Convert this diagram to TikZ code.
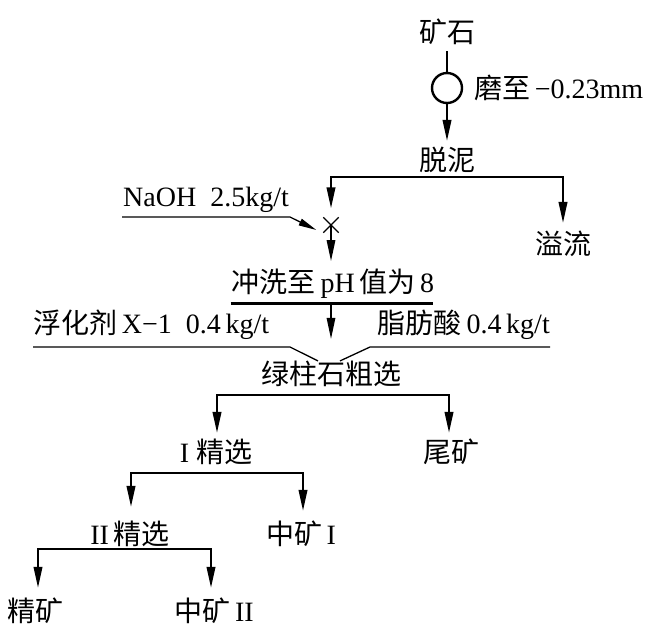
\documentclass[tikz,border=0pt]{standalone}
\usepackage{fontspec}
\setmainfont{Liberation Serif}
\newfontfamily\cjk{Noto Sans CJK SC}
\usetikzlibrary{arrows.meta,shapes.misc,calc}
\begin{document}
\begin{tikzpicture}[x=1pt,y=-1pt,
  txt/.style={inner sep=0pt, font=\fontsize{28}{30}\selectfont},
  flow/.style={line width=2.2pt},
  tip/.tip={Triangle[length=21pt,width=8.5pt]},
  arr/.style={flow,-tip},
  thinarr/.style={line width=1.4pt,-tip},
  feed/.style={line width=1.3pt},
]
\useasboundingbox (0,0) rectangle (663,633);
% nodes
\node[txt] (ore) at (447,32) {\cjk 矿石};
\node[circle,draw,line width=2.4pt,minimum size=30pt,inner sep=0pt] (mill) at (447,88) {};
\node[txt,anchor=west] (grind) at (474,88) {{\cjk 磨至}\,−0.23mm};
\node[txt] (desl) at (447,160) {\cjk 脱泥};
\node[cross out,draw,line width=1.3pt,minimum size=14pt,inner sep=0pt] (xmark) at (331,225) {};
\node[txt] (over) at (563,244) {\cjk 溢流};
\node[txt,anchor=west] (naoh) at (123,200) {NaOH\ \ 2.5kg/t};
\node[txt] (wash) at (333,284) {{\cjk 冲洗至}\,pH\,{\cjk 值为}\,8};
\node[txt,anchor=west] (reagL) at (33,325) {{\cjk 浮化剂}\,X−1\ \ 0.4\,kg/t};
\node[txt,anchor=east] (reagR) at (550,325) {{\cjk 脂肪酸}\,0.4\,kg/t};
\node[txt] (rough) at (331,374) {\cjk 绿柱石粗选};
\node[txt] (c1) at (216,452) {I\ {\cjk 精选}};
\node[txt] (tail) at (451,452) {\cjk 尾矿};
\node[txt] (c2) at (130,534) {II\,{\cjk 精选}};
\node[txt] (mid1) at (301,534) {{\cjk 中矿}\,I};
\node[txt] (conc) at (35,611) {\cjk 精矿};
\node[txt] (mid2) at (214,611) {{\cjk 中矿}\,II};
% split points
\coordinate (s0) at (447,177);
\coordinate (s1) at (331,395);
\coordinate (s2) at (217,473);
\coordinate (s3) at (130,549);
% top
\draw[flow] (ore.south) ++(0,6) -- (mill.north);
\draw[arr] (mill.south) -- ($(desl.north)+(0,-6)$);
% deslime branch
\draw[flow,tip-tip] ($(xmark.north)+(0,-9)$) |- (s0) -| ($(over.north)+(0,-8)$);
% NaOH
\draw[feed,-{Triangle[length=18pt,width=7pt]}] ($(naoh.west)+(-1,17)$) -- ($(naoh.west)+(167,17)$) -- ($(xmark.west)+(-7,5)$);
\draw[line width=1.6pt,-tip] (xmark.center) -- ($(wash.north)+(-2,-8)$);
% wash underline and arrow
\draw[line width=3pt] ($(wash.west)+(-1,19)$) -- ($(wash.east)+(-1,19)$);
\draw[thinarr] ($(wash.center)+(-2,19)$) -- ($(rough.north)+(0,-22)$);
% reagents
\draw[feed] ($(reagL.west)+(0,22)$) -- ($(reagL.west)+(257,22)$) -- ($(rough.north)+(-13,0)$);
\draw[feed] ($(reagR.east)+(0,22)$) -- ($(reagR.east)+(-180,22)$) -- ($(rough.north)+(9,0)$);
% rougher branch
\draw[flow,tip-tip] ($(c1.north)+(1,-6)$) |- (s1) -| ($(tail.north)+(-2,-6)$);
% cleaner I
\draw[flow,tip-tip] ($(c2.north)+(1,-14)$) |- (s2) -| ($(mid1.north)+(2,-10)$);
% cleaner II
\draw[flow,tip-tip] ($(conc.north)+(3,-10)$) |- (s3) -| ($(mid2.north)+(-3,-10)$);
\end{tikzpicture}
\end{document}
